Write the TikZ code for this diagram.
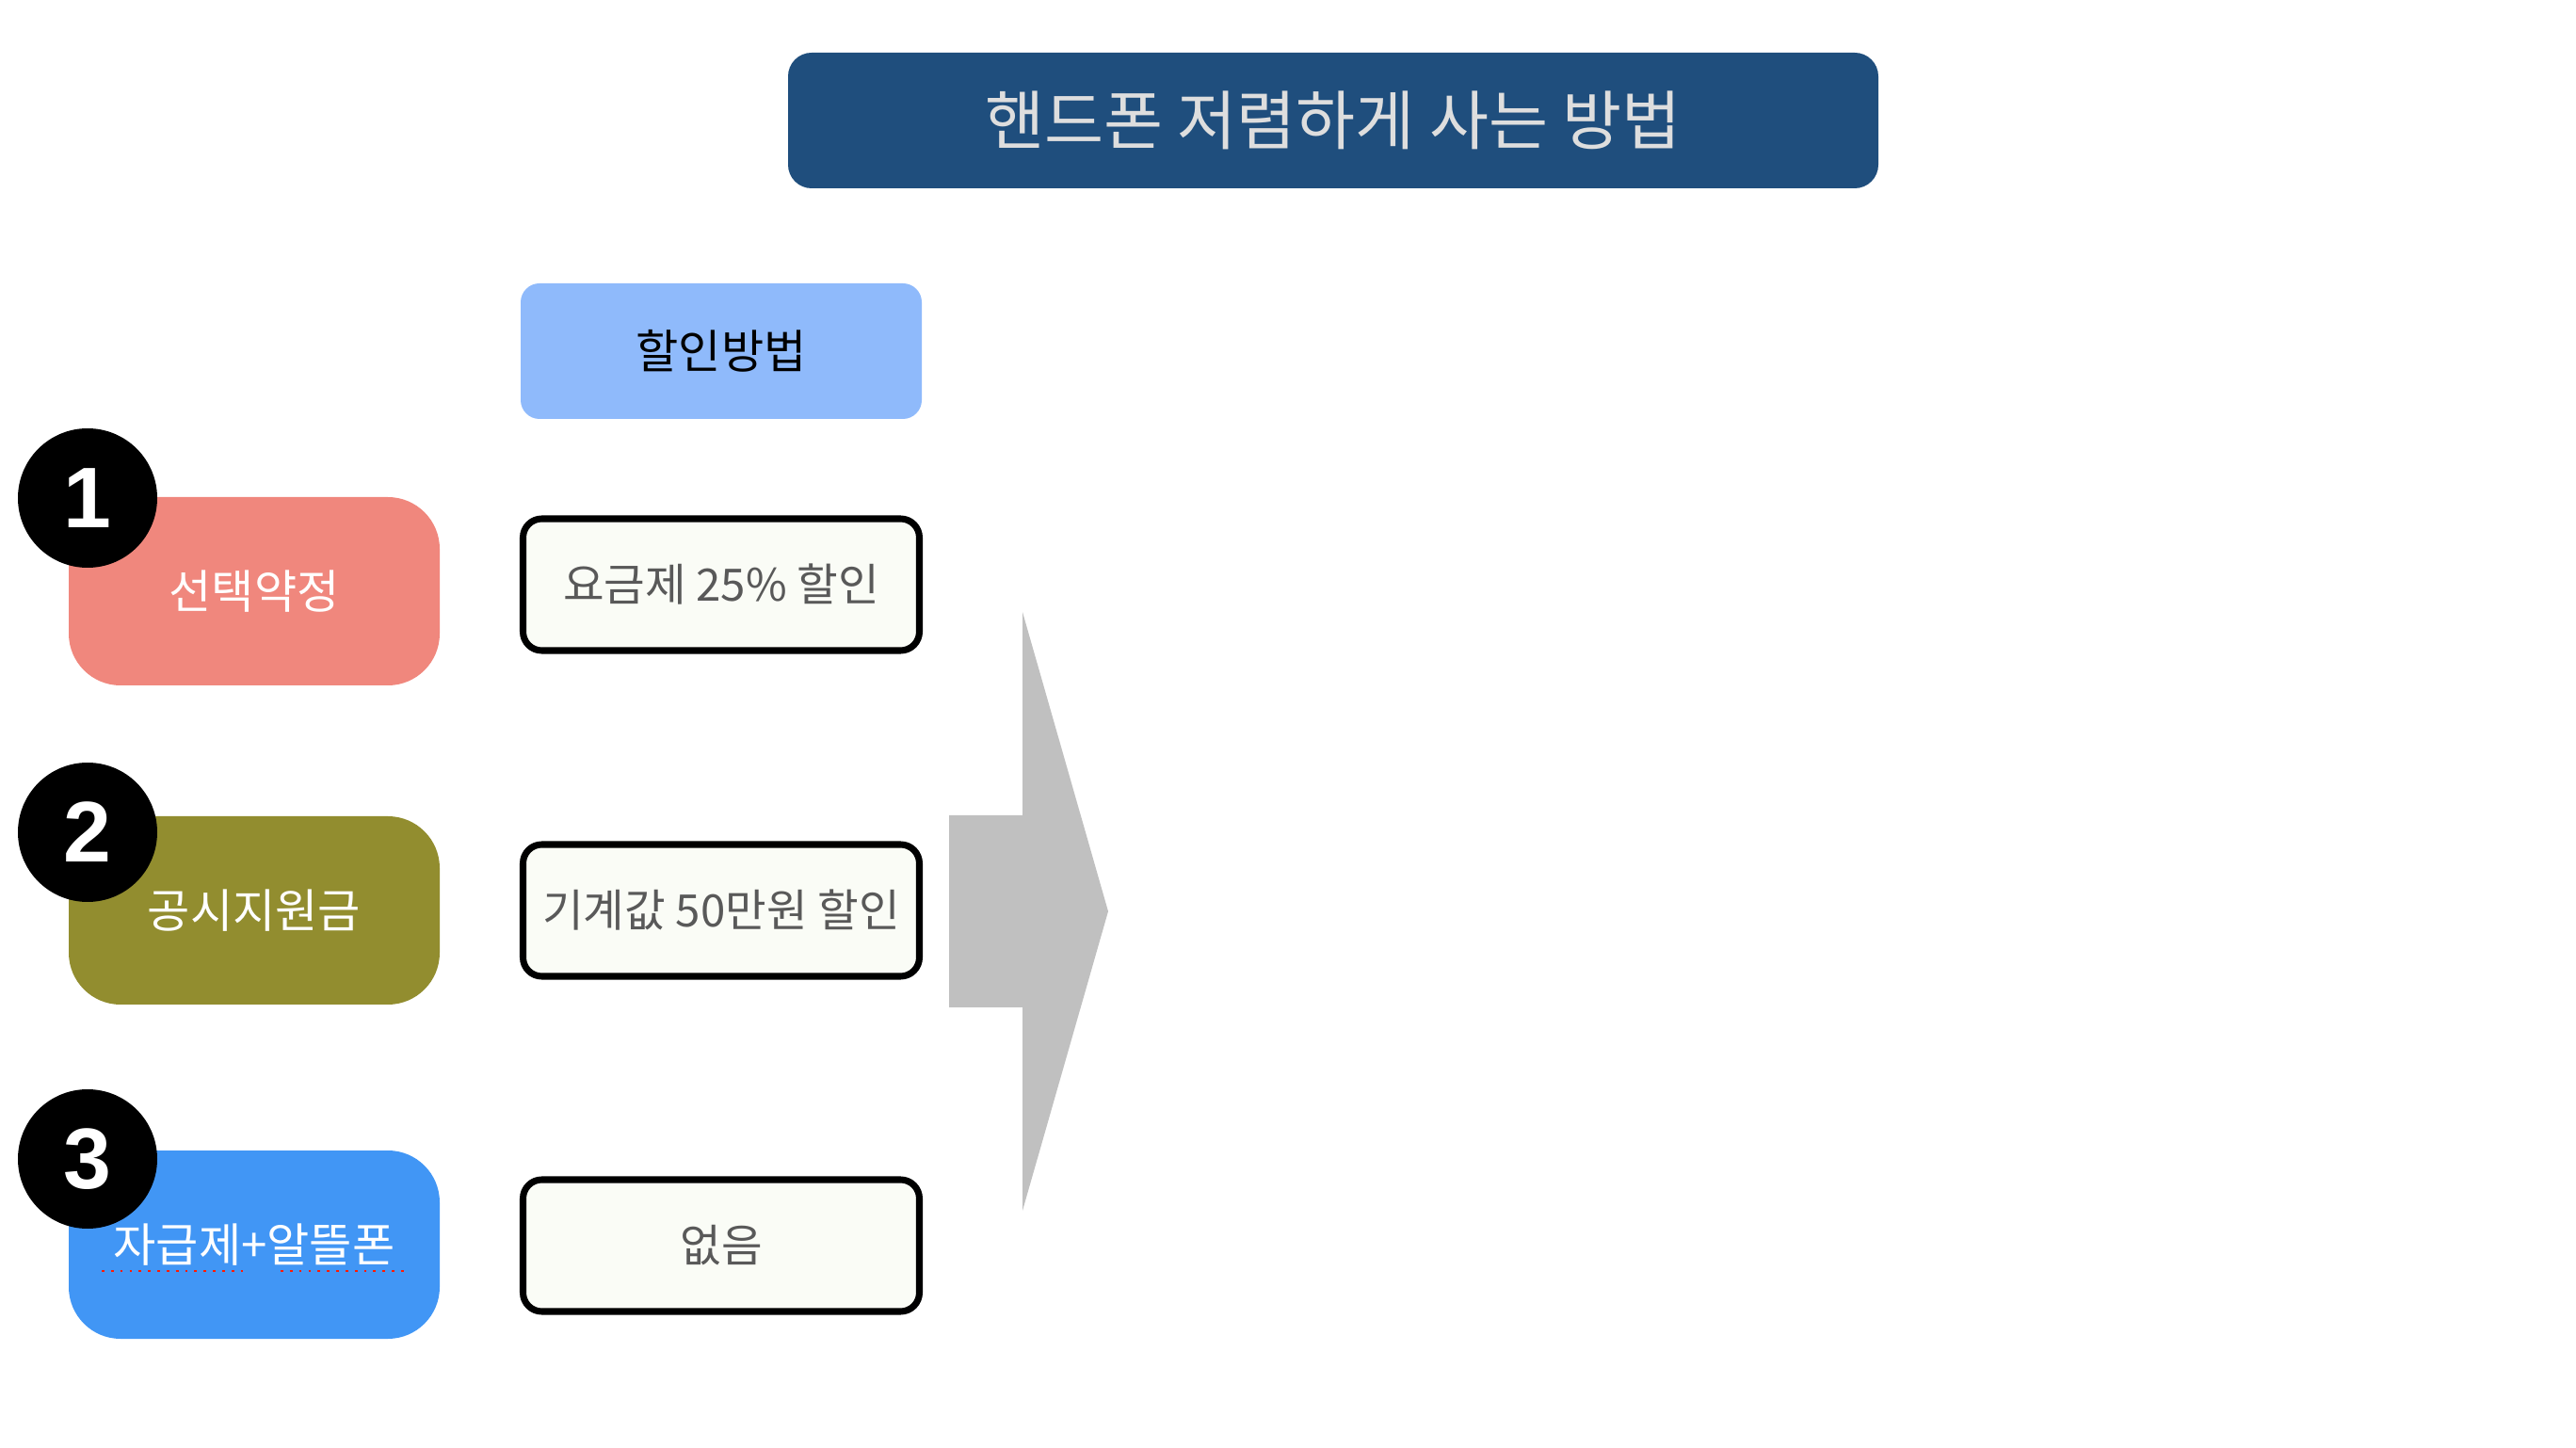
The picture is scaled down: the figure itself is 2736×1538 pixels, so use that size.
\documentclass[tikz,border=0pt]{standalone}
\usepackage{fontspec}
\setmainfont{Noto Sans CJK KR}
\newfontfamily\numfont{Liberation Sans}
\definecolor{titleblue}{HTML}{1F4E7D}
\definecolor{headblue}{HTML}{8FBAFB}
\definecolor{optred}{HTML}{F0877D}
\definecolor{optolive}{HTML}{928D2F}
\definecolor{optblue}{HTML}{4196F5}
\definecolor{cellfill}{HTML}{FAFCF6}
\definecolor{arrowgray}{HTML}{C0C0C0}

\begin{document}
\begin{tikzpicture}[x=0.1mm,y=-0.1mm,
    option/.style={rounded corners=5.5mm,minimum width=39.4mm,minimum height=20mm,text=white,font=\fontsize{14}{16}\selectfont},
    badge/.style={circle,fill=black,minimum size=14.8mm,inner sep=0pt,text=white,font=\numfont\bfseries\fontsize{26}{28}\selectfont},
    cell/.style={draw=black,line width=2pt,rounded corners=2mm,fill=cellfill,minimum width=42.1mm,minimum height=14mm,text=black!65,font=\fontsize{13.5}{15}\selectfont}]
\useasboundingbox (0,0) rectangle (2736,1538);
\node[fill=titleblue,rounded corners=2.5mm,minimum width=115.8mm,minimum height=14.4mm,text=black!13,font=\fontsize{19.5}{22}\selectfont] (title) at (1416,128) {핸드폰 저렴하게 사는 방법};
\node[fill=headblue,rounded corners=2mm,minimum width=42.6mm,minimum height=14.4mm,font=\fontsize{14}{16}\selectfont] (head) at (766,373) {할인방법};
% options
\node[option,fill=optred] (opt1) at (270,628) {선택약정};
\node[option,fill=optolive] (opt2) at (270,967) {공시지원금};
\node[option,fill=optblue] (opt3) at (270,1322) {자급제+알뜰폰};
\draw[red!80!orange,line width=0.8pt,dotted] (108,1350)--(260,1350);
\draw[red!80!orange,line width=0.8pt,dotted] (298,1350)--(433,1350);
\node[badge] (n1) at (93,529) {1};
\node[badge] (n2) at (93,884) {2};
\node[badge] (n3) at (93,1231) {3};
% discounts
\node[cell] (c1) at (766,621) {요금제 25\% 할인};
\node[cell] (c2) at (766,967) {기계값 50만원 할인};
\node[cell] (c3) at (766,1323) {없음};
\fill[arrowgray] (1008,866)--(1086,866)--(1086,650)--(1177,968)--(1086,1286)--(1086,1070)--(1008,1070)--cycle;
\end{tikzpicture}
\end{document}
